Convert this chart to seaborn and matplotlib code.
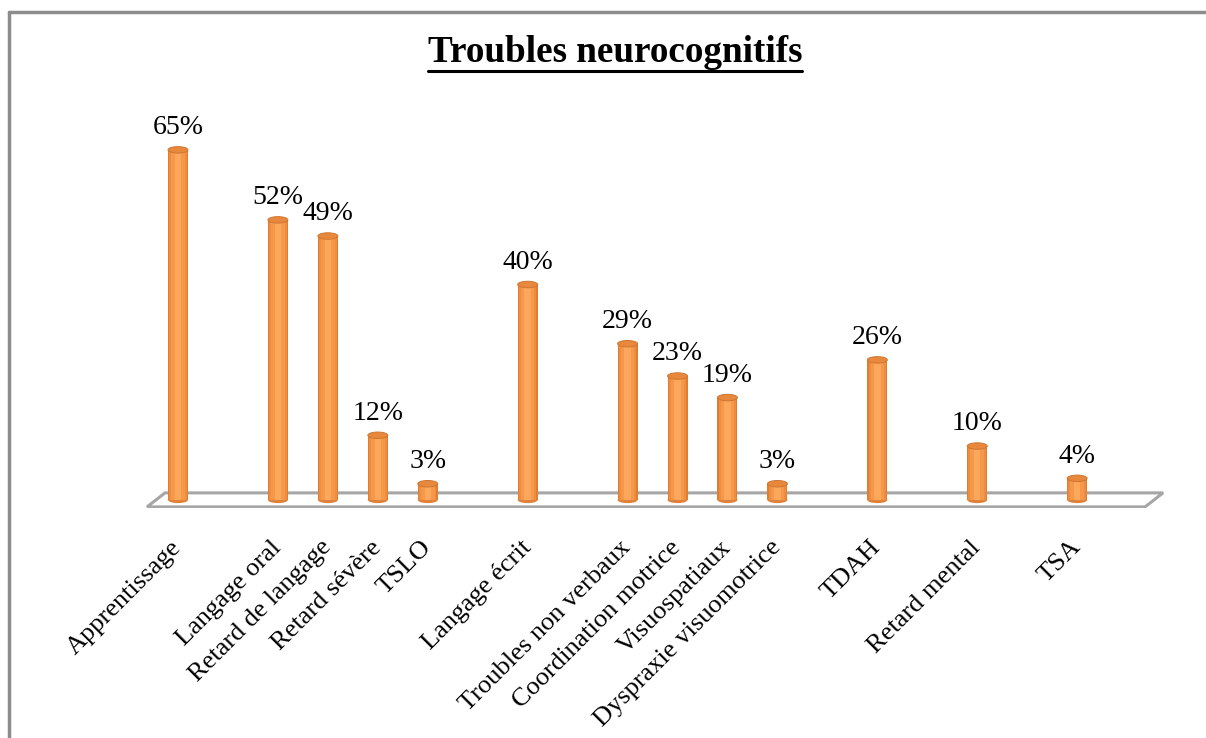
import numpy as np
import pandas as pd
import matplotlib.pyplot as plt
from matplotlib.patches import Ellipse, Polygon
from matplotlib.lines import Line2D
import seaborn as sns

# Données (les catégories vides correspondent aux lignes vides du tableau source)
categories = [
    "Apprentissage", "", "Langage oral", "Retard de langage", "Retard sévère",
    "TSLO", "", "Langage écrit", "", "Troubles non verbaux",
    "Coordination motrice", "Visuospatiaux", "Dyspraxie visuomotrice", "",
    "TDAH", "", "Retard mental", "", "TSA",
]
pourcentages = [
    65, np.nan, 52, 49, 12,
    3, np.nan, 40, np.nan, 29,
    23, 19, 3, np.nan,
    26, np.nan, 10, np.nan, 4,
]
titre = "Troubles neurocognitifs"

df = pd.DataFrame({"categorie": categories, "pct": pourcentages})
df["pos"] = np.arange(len(df))
df_bars = df.dropna(subset=["pct"])

sns.set_style("white")
plt.rcParams["font.family"] = ["Liberation Serif", "DejaVu Serif"]
plt.rcParams["text.color"] = "black"
plt.rcParams["xtick.color"] = "black"

fig = plt.figure(figsize=(12.06, 7.38), dpi=100)
ax = fig.add_axes([0.1186, 0.3117, 0.8491, 0.5582])

# "sol" 3D sous les barres
floor = Polygon(
    [(-0.62, -1.3), (19.36, -1.3), (19.72, 1.3), (-0.26, 1.3)],
    closed=True, facecolor="white", edgecolor="#A6A6A6", lw=2.2, zorder=1,
)
ax.add_patch(floor)

largeur = 0.4
# base arrondie des cylindres
for _, r in df_bars.iterrows():
    ax.add_patch(Ellipse((r["pos"], 0), largeur, 1.2, facecolor="#E0813A",
                         edgecolor="none", zorder=2))

# cylindres : barres superposées pour l'ombrage
teintes = [(0.40, "#DE7E34"), (0.35, "#EF8C3E"), (0.27, "#F6984A"), (0.13, "#FBA75C")]
for w, c in teintes:
    sns.barplot(data=df_bars, x="pos", y="pct", native_scale=True, width=w,
                color=c, saturation=1, edgecolor="none", linewidth=0,
                ax=ax, zorder=3)

# sommet des cylindres + étiquettes
for _, r in df_bars.iterrows():
    ax.add_patch(Ellipse((r["pos"], r["pct"]), largeur, 1.2, facecolor="#E8883C",
                         edgecolor="#CF7631", lw=0.7, zorder=5))
    ax.annotate(f"{int(r['pct'])}%", (r["pos"], r["pct"]), xytext=(0, 7),
                textcoords="offset points", ha="center", va="bottom",
                fontsize=20, color="black")

ax.set_xlim(-0.7, 19.8)
ax.set_ylim(-1.5, 75)
ax.set_xticks(df["pos"])
ax.set_xticklabels(df["categorie"], rotation=45, ha="right", va="center",
                   rotation_mode="anchor", fontsize=19, color="black")
ax.tick_params(axis="x", length=0, pad=26)
ax.set_yticks([])
ax.set_xlabel("")
ax.set_ylabel("")
for s in ax.spines.values():
    s.set_visible(False)

# titre souligné
t = fig.text(615 / 1206, 1 - 52 / 738, titre, ha="center", va="center",
             fontsize=26.7, fontweight="bold", color="black")
fig.canvas.draw()
bb = t.get_window_extent().transformed(fig.transFigure.inverted())
y_ul = 1 - 71 / 738
fig.add_artist(Line2D([bb.x0, bb.x1], [y_ul, y_ul], color="black", lw=2.2))

# cadre du graphique
fig.add_artist(Line2D([9 / 1206, 9 / 1206], [0, 1 - 12 / 738], color="#8C8C8C", lw=2.5))
fig.add_artist(Line2D([9 / 1206, 1], [1 - 12 / 738, 1 - 12 / 738], color="#8C8C8C", lw=2.5))

fig.savefig("out.png", dpi=100)
